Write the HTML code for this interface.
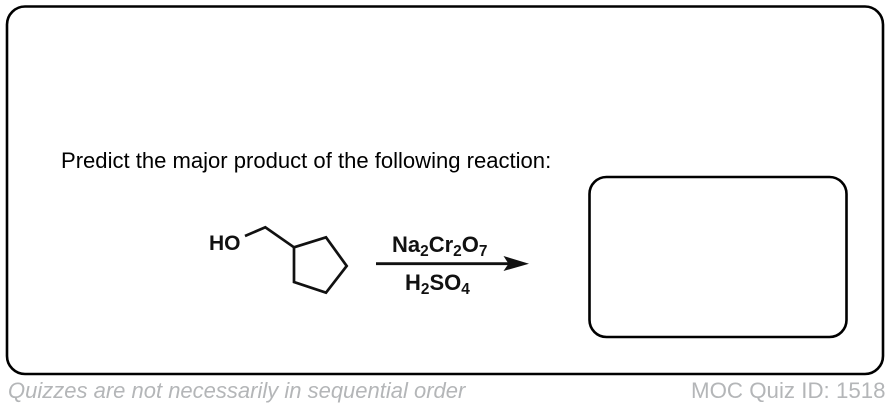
<!DOCTYPE html>
<html>
<head>
<meta charset="utf-8">
<style>
html,body{margin:0;padding:0;background:#fff}
body{width:890px;height:408px;overflow:hidden}
svg{display:block}
text{font-family:"Liberation Sans",Arial,sans-serif}
</style>
</head>
<body>
<svg width="890" height="408" viewBox="0 0 890 408" xmlns="http://www.w3.org/2000/svg">
<rect x="7" y="6.5" width="876" height="367.5" rx="18" ry="18" fill="#fff" stroke="#000" stroke-width="2.6"/>
<rect x="589.5" y="177" width="257" height="160" rx="17" ry="17" fill="#fff" stroke="#000" stroke-width="2.6"/>
<text x="61" y="168" font-size="22.05" fill="#000">Predict the major product of the following reaction:</text>
<text x="209" y="250" font-size="21" font-weight="700" fill="#111">HO</text>
<path d="M245 236 L265.3 227.3 L294 247.3" fill="none" stroke="#111" stroke-width="2.7"/>
<path d="M294 247.3 L326 237.3 L346.7 266 L326 292.7 L294 282 Z" fill="none" stroke="#111" stroke-width="2.7"/>
<line x1="376" y1="263.7" x2="510" y2="263.7" stroke="#111" stroke-width="2.8"/>
<path d="M529 263.7 L503.5 256 L508.5 263.7 L503.5 271 Z" fill="#111"/>
<text x="392" y="252" font-size="22" font-weight="700" fill="#111">Na<tspan font-size="15.4" dy="4">2</tspan><tspan dy="-4">Cr</tspan><tspan font-size="15.4" dy="4">2</tspan><tspan dy="-4">O</tspan><tspan font-size="15.4" dy="4">7</tspan></text>
<text x="405" y="290" font-size="22" font-weight="700" fill="#111">H<tspan font-size="15.4" dy="4">2</tspan><tspan dy="-4">SO</tspan><tspan font-size="15.4" dy="4">4</tspan></text>
<text x="8" y="398" font-size="22" font-style="italic" fill="#b4b6b8">Quizzes are not necessarily in sequential order</text>
<text x="691" y="398" font-size="22.3" fill="#b4b6b8">MOC Quiz ID: 1518</text>
</svg>
</body>
</html>
